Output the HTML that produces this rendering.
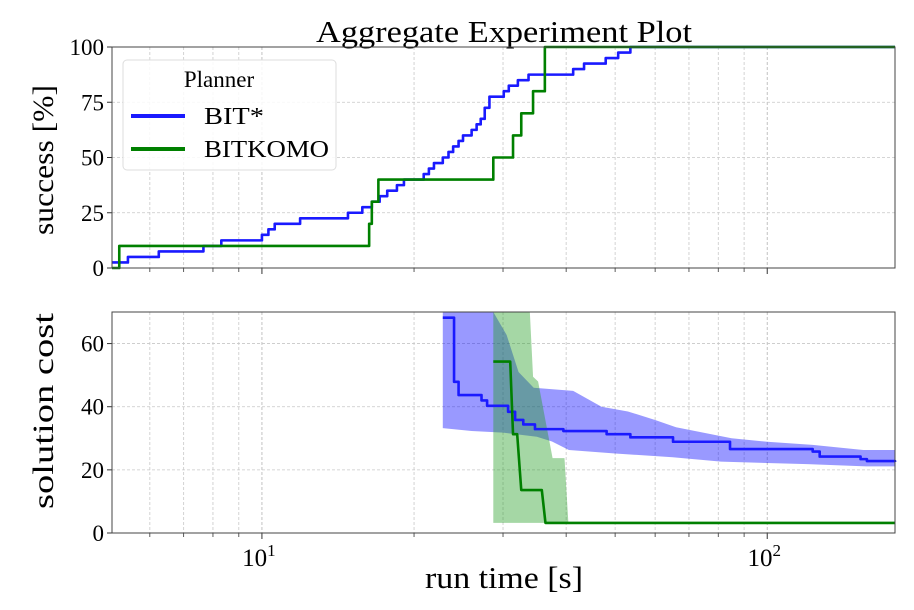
<!DOCTYPE html>
<html><head><meta charset="utf-8"><style>
html,body{margin:0;padding:0;background:#fff;}
svg{display:block;font-family:"Liberation Serif","DejaVu Serif",serif;}
</style></head><body>
<svg id="c" width="914" height="610" viewBox="0 0 914 610" xmlns="http://www.w3.org/2000/svg">
<rect width="914" height="610" fill="#fff"/>
<text x="504" y="42" font-size="31" text-anchor="middle" textLength="376" lengthAdjust="spacingAndGlyphs">Aggregate Experiment Plot</text>
<text transform="translate(53,160) rotate(-90)" font-size="30" text-anchor="middle" textLength="150" lengthAdjust="spacingAndGlyphs">success [%]</text>
<text transform="translate(53,411) rotate(-90)" font-size="30" text-anchor="middle" textLength="196" lengthAdjust="spacingAndGlyphs">solution cost</text>
<text x="504" y="588" font-size="31" text-anchor="middle" textLength="158" lengthAdjust="spacingAndGlyphs">run time [s]</text>
<g id="top"></g><g id="bot"></g>
</svg>
<script>
// ---- data ----
const bitTimes = [5.05,5.43,6.25,7.66,8.31,10.0,10.3,10.6,11.9,14.8,15.8,16.5,17.1,17.7,18.5,19.1,20.9,21.4,21.9,22.8,23.4,23.9,24.5,25.0,26.0,26.6,27.1,27.6,28.2,30.1,30.8,32.1,33.7,41.3,43.4,47.9,50.7,53.6,179];
const bitSuccess = [2.5,5,7.5,10,12.5,15,17.5,20,22.5,25,27.5,30,32.5,35,37.5,40,42.5,45,47.5,50,52.5,55,57.5,60,62.5,65,67.5,72.5,77.5,80,82.5,85,87.5,90,92.5,95,97.5,100,100];
const komoTimes = [5.05,5.22,10.55,16.3,16.5,17.0,28.3,28.7,31.0,31.4,32.6,34.4,36.3,179];
const komoSuccess = [0,10,10,20,30,40,40,50,50,60,70,80,100,100];

const bitCostT = [22.8,23.2,24.0,24.5,25.8,27.2,27.9,29.4,30.7,31.7,32.9,34.7,39.5,48.1,53.6,65.1,84.4,123,127,153,157.5,179];
const bitCostMean = [68.2,68.2,47.9,43.7,43.7,42,40.3,40.3,38.4,35.8,34.4,32.9,32.3,31.3,30.3,28.9,26.6,25.8,24.2,23.4,22.8,22.5];
const bitUpperT = [22.8,28.7,30.5,32.2,34.5,41.3,47,53,60,66,85,100,123,155,179];
const bitUpper = [70,70,62.7,51,46,45,40,38.5,35.8,33.5,30,28.9,27.9,26.3,26.3];
const bitLowerT = [22.8,26,30,35,37.5,40.5,50,65,81,120,157,179];
const bitLower = [33.2,32.3,31.8,30.5,29,26.3,25.2,24,22.6,21.8,21.1,21.1];

const komoCostT = [28.7,31.0,31.4,32.0,32.6,35.8,36.4,179];
const komoCostMean = [54.3,54.3,31.3,31.3,13.6,13.6,3.2,3.2];
const komoUpperT = [28.7,33.9,34.4,35.2,37.6,39.7,40.4];
const komoUpper = [70,70,49.5,48,23.7,23.7,3.4];
const komoLowerT = [28.7,40.4];
const komoLower = [3.2,3.2];

const topTicks = [0,25,50,75,100];
const botTicks = [0,20,40,60];
const majorX = [10,100];
const minorX = [6,7,8,9,20,30,40,50,60,70,80,90];

// ---- axes ----
const X0=112,X1=895,TMIN=5.05,TMAX=179;
const x = t => X0+(Math.log10(t)-Math.log10(TMIN))/(Math.log10(TMAX)-Math.log10(TMIN))*(X1-X0);
const T0=47,T1=268, yT = p => T1-(p/100)*(T1-T0);
const B0=312,B1=533, yB = c => B1-(c/70)*(B1-B0);
const NS="http://www.w3.org/2000/svg";
function mk(parent,tag,attrs){const e=document.createElementNS(NS,tag);for(const k in attrs)e.setAttribute(k,attrs[k]);parent.appendChild(e);return e;}
function stepPts(ts,vs,yf){let p=[];for(let i=0;i<ts.length;i++){if(i>0)p.push(x(ts[i])+','+yf(vs[i-1]));p.push(x(ts[i])+','+yf(vs[i]));}return p.join(' ');}
function linePts(ts,vs,yf){return ts.map((t,i)=>x(t)+','+yf(vs[i])).join(' ');}

function axes(g,y0,y1,ticks,yf,name,showX){
  for(const t of minorX){const l=mk(g,'line',{x1:x(t),x2:x(t),y1:y0,y2:y1,stroke:'#c8c8c8','stroke-width':0.8,'stroke-dasharray':'3,2'});
    
    const tk=mk(g,'line',{x1:x(t),x2:x(t),y1:y1,y2:y1+4,stroke:'#333','stroke-width':0.8});
    }
  for(const t of majorX){const l=mk(g,'line',{x1:x(t),x2:x(t),y1:y0,y2:y1,stroke:'#bbb','stroke-width':0.9,'stroke-dasharray':'3,2'});
    
    const tk=mk(g,'line',{x1:x(t),x2:x(t),y1:y1,y2:y1+6,stroke:'#333','stroke-width':1});
    
    if(showX){const tx=mk(g,'text',{x:x(t)-3,y:y1+33,'font-size':25,'text-anchor':'middle'});
      
      tx.innerHTML='10<tspan dy="-10" font-size="17">'+(t===10?'1':'2')+'</tspan>';}}
  for(const v of ticks){const yy=yf(v);
    const l=mk(g,'line',{x1:X0,x2:X1,y1:yy,y2:yy,stroke:'#c8c8c8','stroke-width':0.8,'stroke-dasharray':'3,2'});
    
    const tk=mk(g,'line',{x1:X0-5,x2:X0,y1:yy,y2:yy,stroke:'#333','stroke-width':1});
    
    const tx=mk(g,'text',{x:X0-8,y:yy+8,'font-size':23,'text-anchor':'end'});
    
    tx.textContent=v;}
}
function frame(g,y0,y1){const r=mk(g,'rect',{x:X0,y:y0,width:X1-X0,height:y1-y0,fill:'none',stroke:'#444','stroke-width':1});
  }

// top
const gt=document.getElementById('top');
axes(gt,T0,T1,topTicks,yT,'top',false);
const lb=mk(gt,'polyline',{points:stepPts(bitTimes,bitSuccess,yT),fill:'none',stroke:'#1a1aff','stroke-width':2.6,'stroke-linejoin':'round'});

const lk=mk(gt,'polyline',{points:stepPts(komoTimes,komoSuccess,yT),fill:'none',stroke:'#008000','stroke-width':2.6,'stroke-linejoin':'round'});

frame(gt,T0,T1);

// legend
const lg=mk(gt,'g',{});

mk(lg,'rect',{x:123,y:60,width:213,height:110,rx:4,fill:'#fff','fill-opacity':0.85,stroke:'#ddd'});
const lt=mk(lg,'text',{x:219,y:87,'font-size':23,'text-anchor':'middle'});lt.textContent='Planner';

const e1=mk(lg,'g',{});
mk(e1,'line',{x1:131,x2:185,y1:116,y2:116,stroke:'#1a1aff','stroke-width':4});
mk(e1,'text',{x:204,y:124,'font-size':24,textLength:60,lengthAdjust:'spacingAndGlyphs'}).textContent='BIT*';
const e2=mk(lg,'g',{});
mk(e2,'line',{x1:131,x2:185,y1:149,y2:149,stroke:'#008000','stroke-width':4});
mk(e2,'text',{x:204,y:157,'font-size':24,textLength:125,lengthAdjust:'spacingAndGlyphs'}).textContent='BITKOMO';

// bottom
const gb=document.getElementById('bot');
axes(gb,B0,B1,botTicks,yB,'bot',true);
function band(ts1,up,ts2,lo,color,name){
  const p=linePts(ts1,up,yB)+' '+ts2.map((t,i)=>x(t)+','+yB(lo[i])).reverse().join(' ');
  const e=mk(gb,'polygon',{points:p,fill:color,'fill-opacity':0.4});
  }
band(bitUpperT,bitUpper,bitLowerT,bitLower,'#0000ff','bit-star-cost-band');
band(komoUpperT,komoUpper,komoLowerT,komoLower,'#1f9a1f','bitkomo-cost-band');
const mb=mk(gb,'polyline',{points:stepPts(bitCostT,bitCostMean,yB),fill:'none',stroke:'#1a1aff','stroke-width':2.6,'stroke-linejoin':'round'});

const mkk=mk(gb,'polyline',{points:linePts(komoCostT,komoCostMean,yB),fill:'none',stroke:'#008000','stroke-width':2.6,'stroke-linejoin':'round'});

frame(gb,B0,B1);
</script>
</body></html>
